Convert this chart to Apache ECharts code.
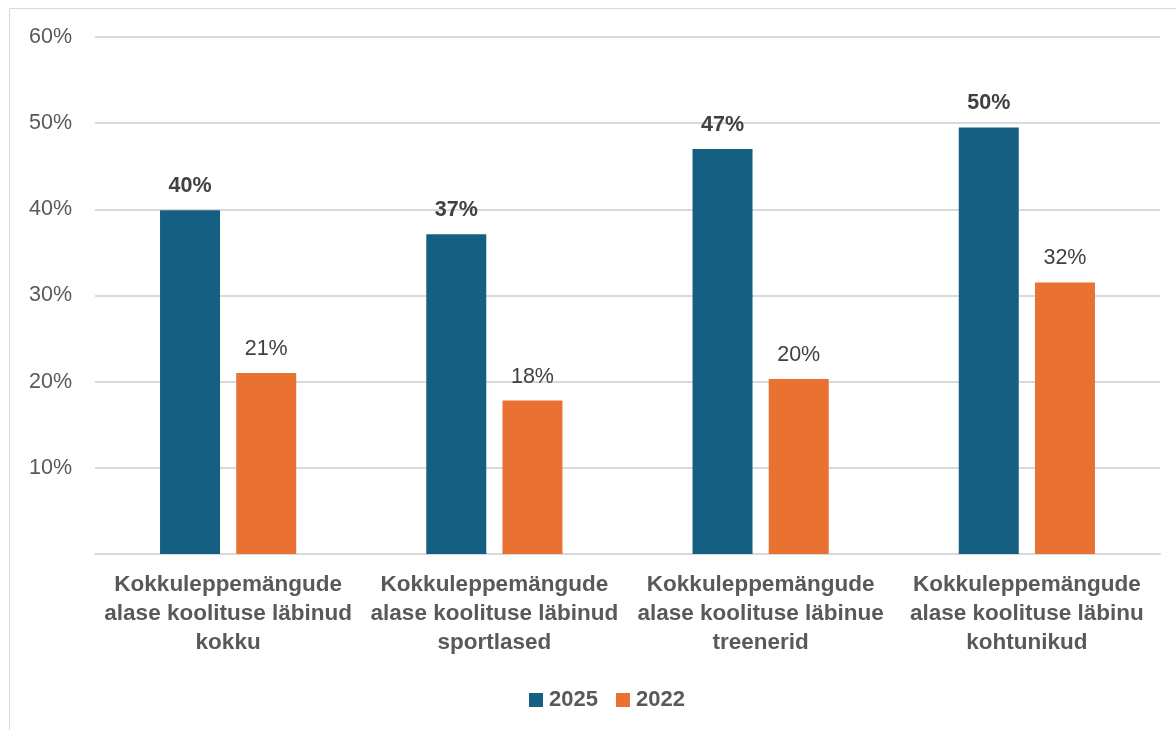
<!DOCTYPE html>
<html>
<head>
<meta charset="utf-8">
<script src="https://cdn.jsdelivr.net/npm/echarts@6/dist/echarts.min.js"></script>
<style>
  html, body { margin: 0; padding: 0; background: #fff; }
  #chart { width: 1176px; height: 730px; }
</style>
</head>
<body>
<div id="chart"></div>
<script>
const categories = [
    'Kokkuleppemängude\nalase koolituse läbinud\nkokku',
    'Kokkuleppemängude\nalase koolituse läbinud\nsportlased',
    'Kokkuleppemängude\nalase koolituse läbinue\ntreenerid',
    'Kokkuleppemängude\nalase koolituse läbinu\nkohtunikud'
];
const values2025 = [39.9, 37.1, 47.0, 49.5];
const values2022 = [21.0, 17.8, 20.3, 31.5];

const font = '"Liberation Sans", Arial, sans-serif';
const chart = echarts.init(document.getElementById('chart'));

var option = {
    animation: false,
    textStyle: { fontFamily: font },
    graphic: [{
        type: 'rect',
        shape: { x: 9.5, y: 8.5, width: 1300, height: 900 },
        style: { fill: 'none', stroke: '#d9d9d9', lineWidth: 1 },
        silent: true
    }],
    grid: { left: 95, right: 16, top: 37, bottom: 176 },
    legend: {
        top: 684,
        left: 524,
        itemWidth: 14,
        itemHeight: 14,
        itemGap: 18,
        icon: 'rect',
        textStyle: { fontSize: 22, fontWeight: 'bold', color: '#595959', fontFamily: font, padding: [0, 0, 0, 1] },
        data: ['2025', '2022']
    },
    xAxis: {
        type: 'category',
        data: categories,
        axisLine: { lineStyle: { color: '#d9d9d9', width: 2 } },
        axisTick: { show: false },
        axisLabel: {
            interval: 0,
            margin: 16,
            fontSize: 22.5,
            lineHeight: 29,
            fontWeight: 'bold',
            color: '#595959',
            fontFamily: font
        }
    },
    yAxis: {
        type: 'value',
        min: 0,
        max: 60,
        interval: 10,
        axisLine: { show: false },
        axisTick: { show: false },
        splitLine: { lineStyle: { color: '#d9d9d9', width: 2 } },
        axisLabel: {
            margin: 23,
            fontSize: 21.5,
            color: '#595959',
            fontFamily: font,
            formatter: v => v === 0 ? '' : v + '%'
        }
    },
    series: [
        {
            name: '2025',
            type: 'bar',
            data: values2025,
            barWidth: 60,
            barGap: '27%',
            itemStyle: { color: '#156082' },
            label: {
                show: true,
                position: 'top',
                distance: 13,
                fontSize: 21.5,
                fontWeight: 'bold',
                color: '#404040',
                fontFamily: font,
                formatter: p => Math.round(p.value) + '%'
            }
        },
        {
            name: '2022',
            type: 'bar',
            data: values2022,
            barWidth: 60,
            itemStyle: { color: '#E97132' },
            label: {
                show: true,
                position: 'top',
                distance: 13,
                fontSize: 21.5,
                color: '#404040',
                fontFamily: font,
                formatter: p => Math.round(p.value) + '%'
            }
        }
    ]
};
chart.setOption(option);
</script>
</body>
</html>
